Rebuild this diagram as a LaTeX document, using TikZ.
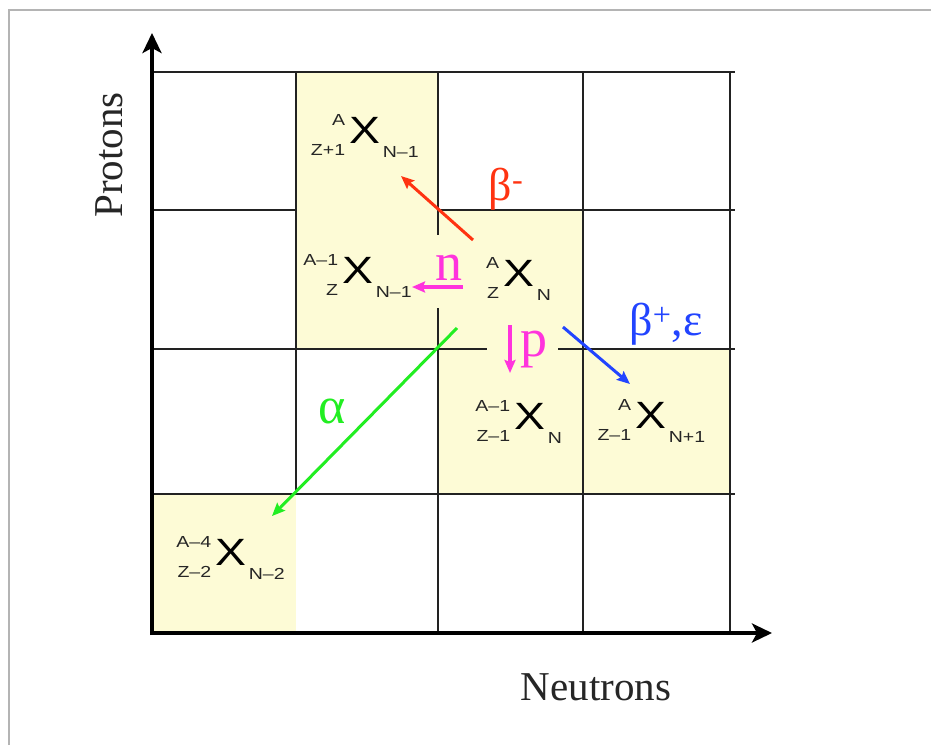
\documentclass[tikz,border=0pt]{standalone}
\usepackage{fontspec}
\setmainfont{Liberation Serif}
\newfontfamily\nucfont[FakeStretch=1.22]{Liberation Sans}
\usetikzlibrary{arrows.meta}
\definecolor{cellyellow}{HTML}{FDFBD6}
\definecolor{gridc}{HTML}{222222}
\definecolor{framec}{HTML}{B4B4B4}
\definecolor{cred}{HTML}{FF3311}
\definecolor{cmag}{HTML}{FF33DD}
\definecolor{cblue}{HTML}{2244FF}
\definecolor{cgreen}{HTML}{22EE22}
\tikzset{
  gridline/.style={draw=gridc, line width=1.7pt},
  axisline/.style={draw=black, line width=3.5pt, -{Stealth[length=20pt,width=19pt,inset=5pt]}},
  decay/.style={line width=3pt, -{Stealth[length=13pt,width=11pt,inset=2pt]}},
  bigx/.style={inner sep=0pt, font=\nucfont\fontsize{38}{38}\selectfont, text=black},
  idx/.style={inner sep=0pt, font=\nucfont\fontsize{16}{16}\selectfont, text=black!85},
  axlabel/.style={inner sep=0pt, font=\fontsize{41}{41}\selectfont, text=black!85},
  greek/.style={inner sep=0pt, anchor=base},
}
\newcommand{\nuclide}[6]{%
  \node[bigx] (#1) at (#2,#3) {X};
  \node[idx, anchor=east] (#1s) at ([xshift=-4pt,yshift=10pt]#1.west) {#4};
  \node[idx, anchor=east] (#1z) at ([xshift=-4pt,yshift=-20pt]#1.west) {#5};
  \node[idx, anchor=west] (#1n) at ([xshift=2pt,yshift=-22pt]#1.east) {#6};
}
\begin{document}
\begin{tikzpicture}[x=1pt,y=-1pt]
\useasboundingbox (0,0) rectangle (931,745);
\fill[white] (0,0) rectangle (931,745);
% frame
\draw[framec, line width=2pt] (9,745) -- (9,10) -- (931,10);
% yellow cells
\fill[cellyellow] (296,72) rectangle (438,349);
\fill[cellyellow] (438,210) rectangle (583,494);
\fill[cellyellow] (583,349) rectangle (730,494);
\fill[cellyellow] (152,494) rectangle (296,633);
% grid
\draw[gridline] (152,72) -- (735,72);
\draw[gridline] (152,210) -- (296,210);
\draw[gridline] (438,210) -- (735,210);
\draw[gridline] (152,349) -- (487,349);
\draw[gridline] (558,349) -- (735,349);
\draw[gridline] (152,494) -- (735,494);
\draw[gridline] (296,72) -- (296,494);
\draw[gridline] (438,72) -- (438,235);
\draw[gridline] (438,308) -- (438,633);
\draw[gridline] (583,72) -- (583,633);
\draw[gridline] (730,72) -- (730,633);
% axes
\coordinate (origin) at (152,633);
\coordinate (ytip) at (152,33);
\coordinate (xtip) at (772,633);
\draw[axisline] ([yshift=-2pt]origin) -- (ytip);
\draw[axisline] ([xshift=-2pt]origin) -- (xtip);
\node[axlabel, rotate=90, anchor=base] (protons) at (122,155) {Protons};
\node[axlabel, anchor=base] (neutrons) at (596,700) {Neutrons};
% nuclides
\nuclide{nA}{365}{130}{A}{Z+1}{N–1}
\nuclide{nB}{358}{270}{A–1}{Z}{N–1}
\nuclide{nC}{519}{273}{A}{Z}{N}
\nuclide{nD}{530}{416}{A–1}{Z–1}{N}
\nuclide{nE}{651}{415}{A}{Z–1}{N+1}
\nuclide{nF}{231}{552}{A–4}{Z–2}{N–2}
% decay arrows
\coordinate (rS) at (473,240); \coordinate (rE) at (401,176);
\coordinate (nS) at (463,287); \coordinate (nE) at (412,287);
\coordinate (pS) at (510,325); \coordinate (pE) at (510,373);
\coordinate (bS) at (563,327); \coordinate (bE) at (630,384);
\coordinate (gS) at (457,328); \coordinate (gE) at (272,516);
\draw[decay, cred] (rS) -- (rE);
\draw[decay, cmag, line width=3.5pt] (nS) -- (nE);
\draw[decay, cmag, line width=3.5pt] (pS) -- (pE);
\draw[decay, cblue] (bS) -- (bE);
\draw[decay, cgreen] (gS) -- (gE);
% labels
\node[greek, text=cred, font=\fontsize{46}{46}\selectfont] (lbm) at (506,200) {β\textsuperscript{-}};
\node[greek, text=cmag, font=\fontsize{54}{54}\selectfont] (ln) at (449,280) {n};
\node[greek, text=cmag, font=\fontsize{54}{54}\selectfont] (lp) at (534,356) {p};
\node[greek, text=cblue, font=\fontsize{46}{46}\selectfont] (lbp) at (666,335) {β\textsuperscript{+},ε};
\node[greek, text=cgreen, font=\fontsize{52}{52}\selectfont] (la) at (332,423) {α};
\end{tikzpicture}
\end{document}
